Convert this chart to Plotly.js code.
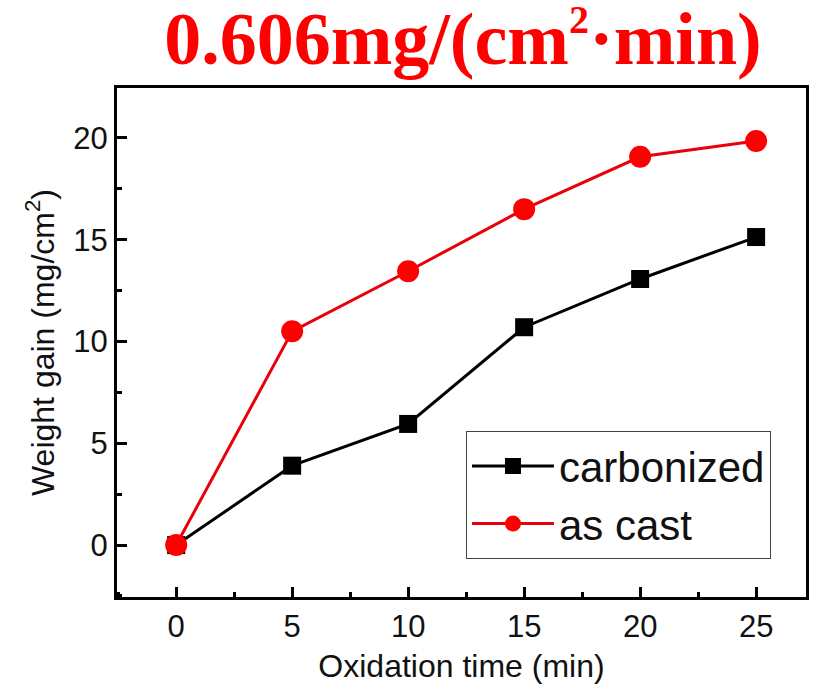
<!DOCTYPE html>
<html>
<head>
<meta charset="utf-8">
<script src="https://cdn.plot.ly/plotly-3.0.1.min.js"></script>
<style>html,body{margin:0;padding:0;background:#fff;}#chart{width:823px;height:695px;}</style>
</head>
<body>
<div id="chart"></div>
<script>
const time = [0, 5, 10, 15, 20, 25];
const carbonized = [0, 3.9, 5.95, 10.7, 13.07, 15.13];
const asCast = [0, 10.5, 13.45, 16.5, 19.07, 19.85];
const seriesNames = ["carbonized", "as cast"];
const titleText = "0.606mg/(cm<sup><span style=\"font-size:40px\">2</span></sup>·min)";
const xTitle = "Oxidation time (min)";
const yTitle = "Weight gain (mg/cm<sup>2</sup>)";

const traces = [
  {x: time, y: carbonized, name: seriesNames[0], mode: "lines+markers",
   line: {color: "#000000", width: 3}, marker: {symbol: "square", size: 18, color: "#000000"}},
  {x: time, y: asCast, name: seriesNames[1], mode: "lines+markers",
   line: {color: "#e8000b", width: 3}, marker: {symbol: "circle", size: 22, color: "#ff0000"}}
];

const sans = "Liberation Sans, Arial, sans-serif";
const axisCommon = {
  showline: true, mirror: true, linewidth: 3, linecolor: "#000",
  ticks: "inside", ticklen: 10, tickwidth: 3, tickcolor: "#000",
  showgrid: false, zeroline: false,
  tickfont: {family: sans, size: 31, color: "#111"}
};
const titleFont = {family: sans, size: 32, color: "#111"};

const layout = {
  width: 823, height: 695,
  margin: {l: 117, r: 17, t: 88, b: 98},
  paper_bgcolor: "#fff", plot_bgcolor: "#fff",
  title: {text: titleText, x: 0.5625, xanchor: "center", y: 0.908, yanchor: "bottom",
          font: {family: "Liberation Serif, Times New Roman, serif", size: 74, color: "#ff0000", weight: "bold"}},
  xaxis: Object.assign({}, axisCommon, {
    range: [-2.55, 27.15], tick0: 0, dtick: 5,
    minor: {ticks: "inside", ticklen: 5, tickwidth: 3, tickcolor: "#000", dtick: 2.5, tick0: 0},
    title: {text: xTitle, standoff: 12, font: titleFont}
  }),
  yaxis: Object.assign({}, axisCommon, {
    range: [-2.55, 22.45], tick0: 0, dtick: 5,
    minor: {ticks: "inside", ticklen: 5, tickwidth: 3, tickcolor: "#000", dtick: 2.5, tick0: 0},
    title: {text: yTitle, standoff: 10, font: titleFont}
  }),
  legend: {x: 0.5065, y: 0.2, xanchor: "left", yanchor: "middle",
           bgcolor: "#fff", bordercolor: "#444", borderwidth: 1,
           font: {family: sans, size: 42, color: "#111"},
           itemwidth: 82, tracegroupgap: 0},
  showlegend: true
};

Plotly.newPlot("chart", traces, layout, {displayModeBar: false, staticPlot: true});
</script>
</body>
</html>
